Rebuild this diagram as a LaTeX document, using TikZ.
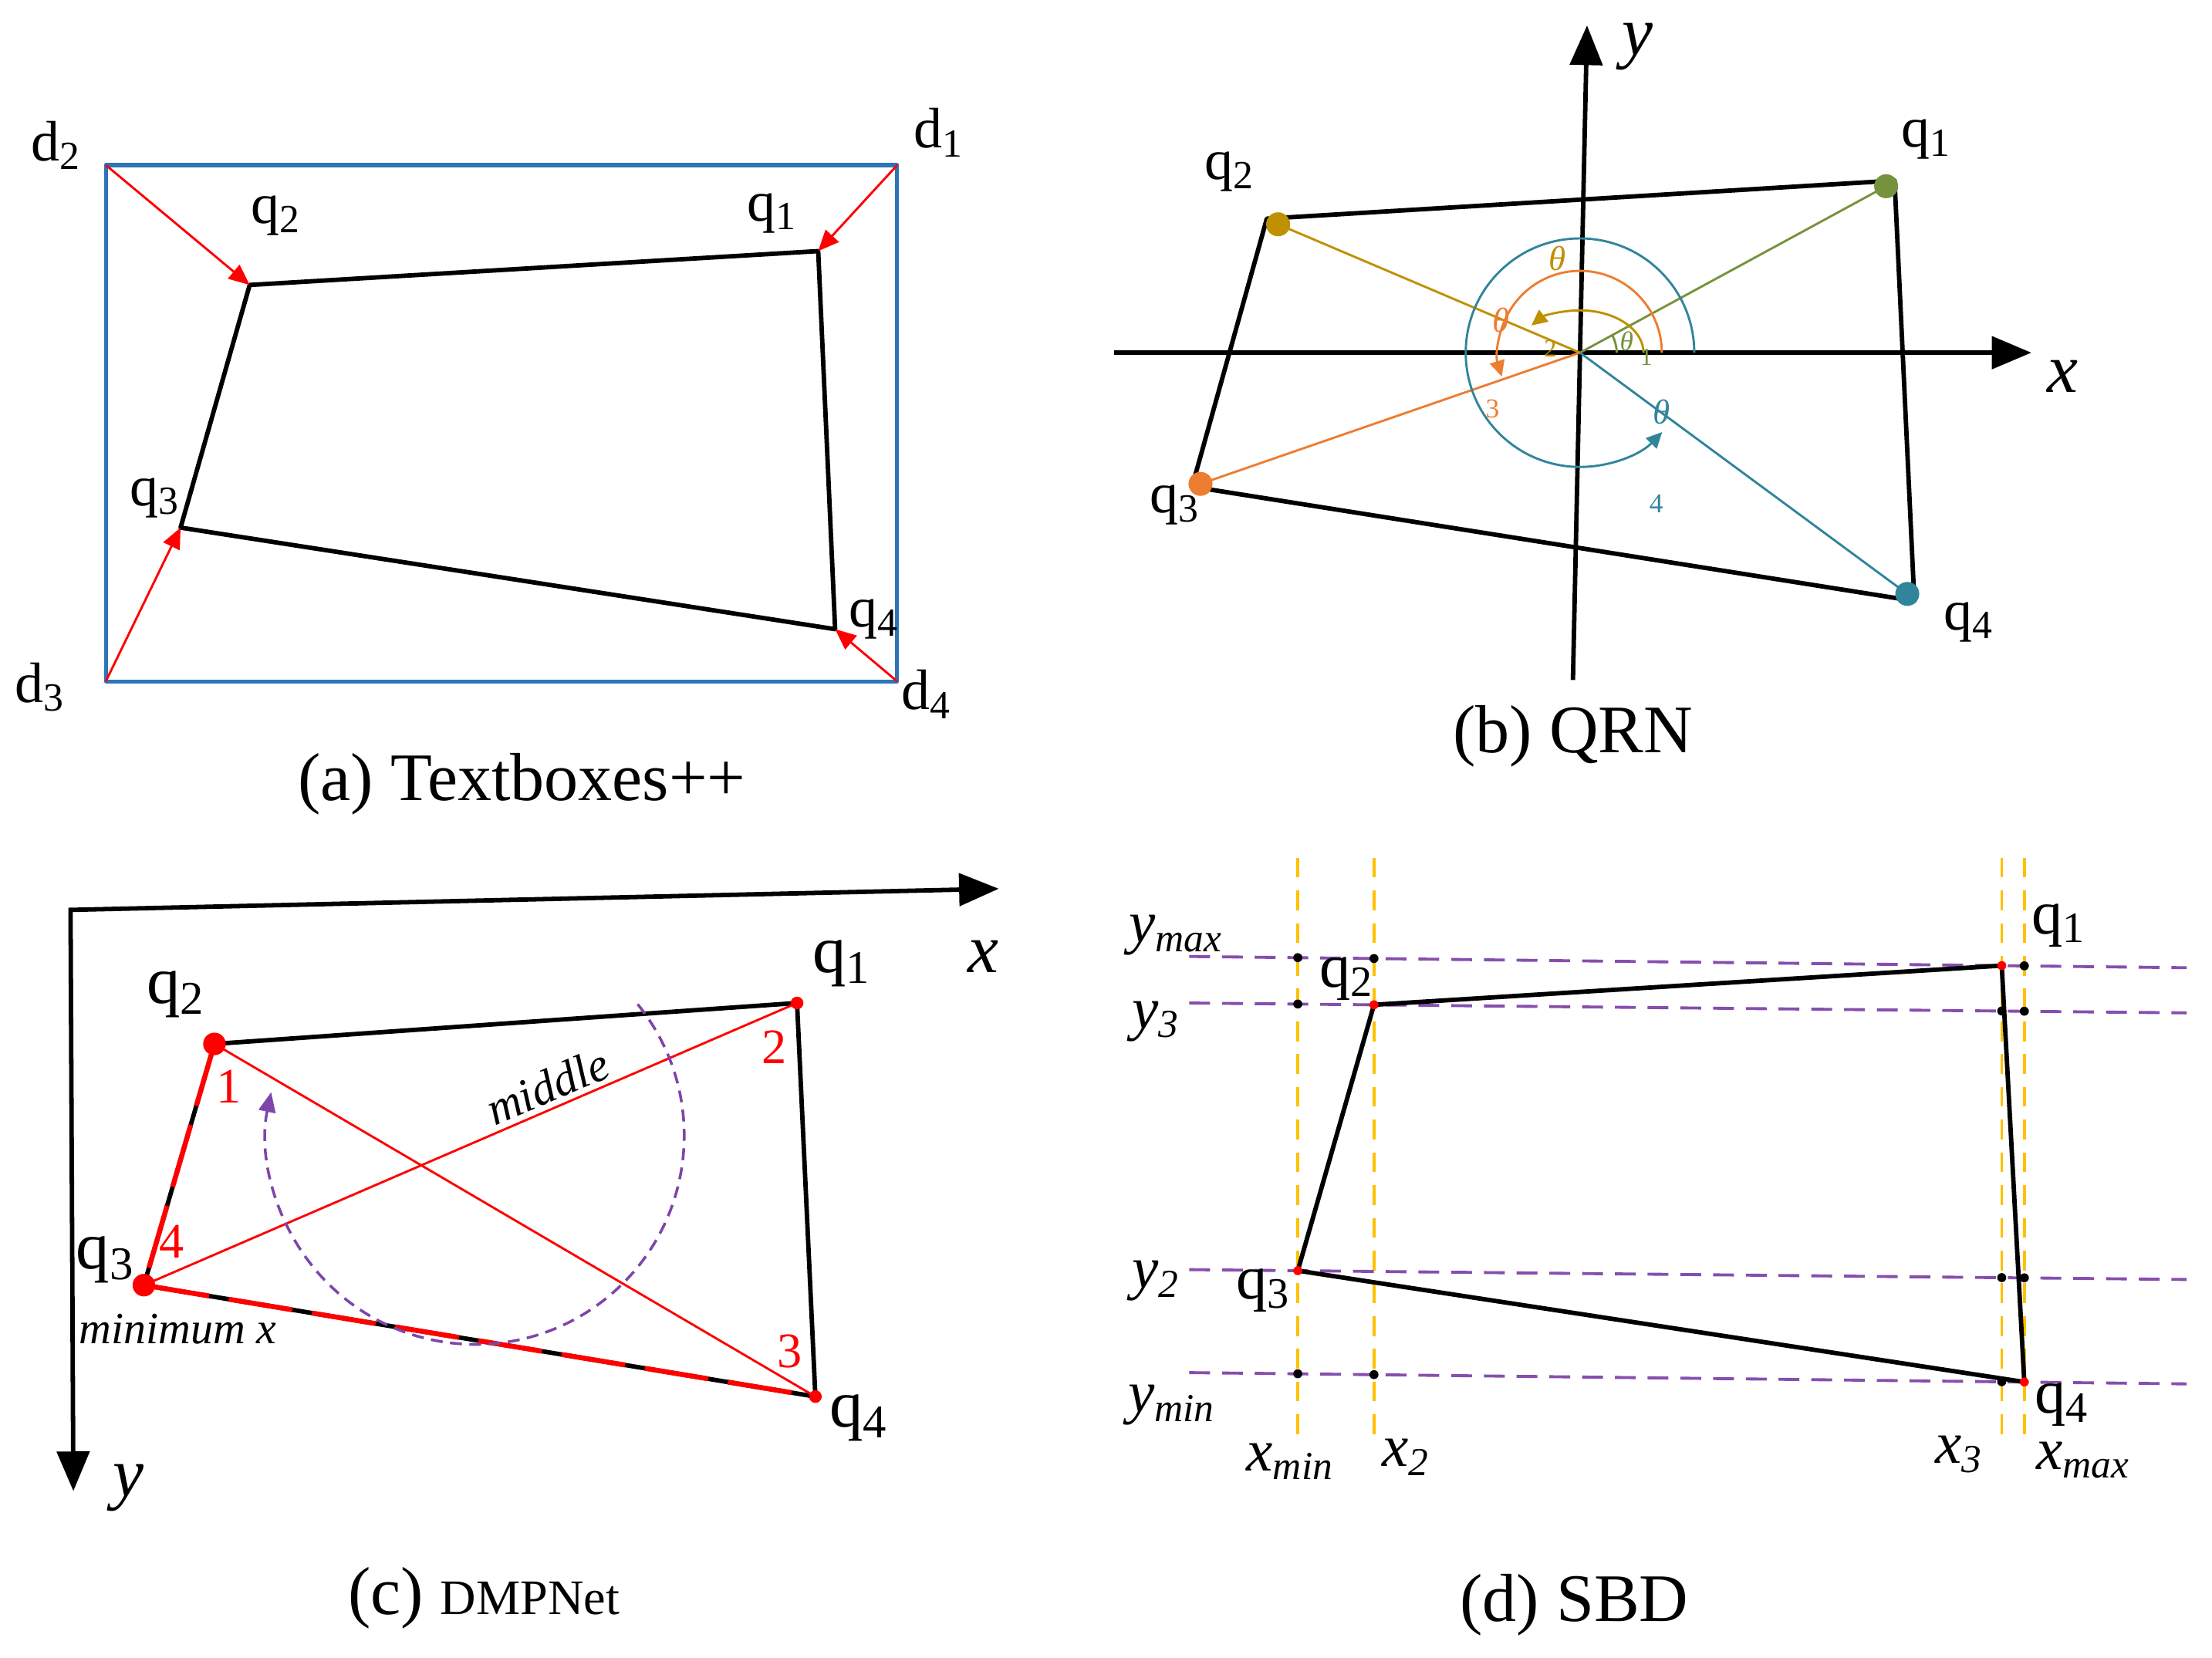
\documentclass[tikz,border=0pt]{standalone}
\usepackage{fontspec}
\setmainfont{Liberation Serif}
\usetikzlibrary{arrows.meta}

\definecolor{boxblue}{RGB}{46,117,182}
\definecolor{qgold}{RGB}{191,144,0}
\definecolor{qgreen}{RGB}{118,146,60}
\definecolor{qorange}{RGB}{237,125,49}
\definecolor{qteal}{RGB}{49,133,155}
\definecolor{lineyellow}{RGB}{255,192,0}
\definecolor{linepurple}{RGB}{112,48,160}

\begin{document}
\begin{tikzpicture}[x=0.01cm,y=-0.01cm,line join=round,
		edge/.style={line width=0.9pt},
		ptr/.style={red,line width=0.45pt,-{Triangle[length=4.2pt,width=3.6pt]}},
		axis/.style={line width=0.9pt,-{Triangle[length=8pt,width=6.5pt]}},
		arcptr/.style={line width=0.45pt,-{Triangle[length=3.2pt,width=3pt]}},
		lbl/.style={font=\fontsize{11.5}{13}\selectfont,inner sep=0pt},
		biglbl/.style={font=\fontsize{13.5}{15}\selectfont,inner sep=0pt},
		axlbl/.style={font=\fontsize{14}{16}\itshape,inner sep=0pt},
		captxt/.style={font=\fontsize{13.7}{16}\selectfont,inner sep=0pt},
		hdash/.style={linepurple!85,line width=0.6pt,dash pattern=on 4.2pt off 2.4pt},
		vdash/.style={lineyellow,line width=0.55pt,dash pattern=on 4pt off 2.6pt}]
		\useasboundingbox (0,0) rectangle (1568,1175);
		
		% (a) Textboxes++
		\coordinate (d1) at (636,117);
		\coordinate (d2) at (75,117);
		\coordinate (d3) at (75,483);
		\coordinate (d4) at (636,483);
		\coordinate (q1) at (580,178);
		\coordinate (q2) at (177,202);
		\coordinate (q3) at (128,374);
		\coordinate (q4) at (592,446);
		\draw[boxblue,line width=0.8pt] (d2) rectangle (d4);
		\draw[edge] (q1) -- (q2) -- (q3) -- (q4) -- cycle;
		\foreach \i in {1,...,4}
		\draw[ptr] (d\i) -- (q\i);
		\node[lbl] (ld1) at (666,94) {d\textsubscript{1}};
		\node[lbl] (ld2) at (40,103) {d\textsubscript{2}};
		\node[lbl] (ld3) at (29,487) {d\textsubscript{3}};
		\node[lbl] (ld4) at (657,492) {d\textsubscript{4}};
		\node[lbl] (lq1) at (548,151) {q\textsubscript{1}};
		\node[lbl] (lq2) at (196,153) {q\textsubscript{2}};
		\node[lbl] (lq3) at (110,353) {q\textsubscript{3}};
		\node[lbl] (lq4) at (620,439) {q\textsubscript{4}};
		\node[captxt] (capa) at (370,556) {(a) Textboxes++};
		
		% (b) QRN
		\coordinate (O) at (1120,250);
		\coordinate (bxl) at (790,250);
		\coordinate (bxr) at (1440,250);
		\coordinate (byb) at (1115,482);
		\coordinate (byt) at (1125,18);
		\coordinate (bc1) at (1343,128);
		\coordinate (bc2) at (898,155);
		\coordinate (bc3) at (845,345);
		\coordinate (bc4) at (1357,426);
		\coordinate (bq1) at (1337,132);
		\coordinate (bq2) at (906,159);
		\coordinate (bq3) at (851,343);
		\coordinate (bq4) at (1352,421);
		\draw[axis] (bxl) -- (bxr);
		\draw[axis] (byb) -- (byt);
		\draw[edge] (bc1) -- (bc2) -- (bc3) -- (bc4) -- cycle;
		\draw[qgreen,line width=0.45pt] (O) -- (bq1);
		\draw[qgold,line width=0.45pt] (O) -- (bq2);
		\draw[qorange,line width=0.45pt] (O) -- (bq3);
		\draw[qteal,line width=0.45pt] (O) -- (bq4);
		\draw[qgreen,line width=0.45pt] (O) ++(26,0) arc[start angle=0,end angle=-28.5,radius=26];
		\draw[qgold,arcptr] (O) ++(45,0) arc[start angle=0,end angle=-140,x radius=45,y radius=30];
		\draw[qorange,arcptr] (O) ++(58,0) arc[start angle=0,end angle=-197,radius=58];
		\draw[qteal,arcptr] (O) ++(81,0) arc[start angle=0,end angle=-316,radius=81];
		\fill[qgreen] (bq1) circle (8.5);
		\fill[qgold] (bq2) circle (8.5);
		\fill[qorange] (bq3) circle (8.5);
		\fill[qteal] (bq4) circle (8.5);
		\node[qgold,font=\fontsize{7}{8}\itshape,inner sep=0pt] (tgold) at (1104,183) {θ};
		\node[qorange,font=\fontsize{7}{8}\itshape,inner sep=0pt] (torange) at (1064,227) {θ};
		\node[qgreen,font=\fontsize{5.5}{6}\itshape,inner sep=0pt] (tgreen) at (1153,242) {θ};
		\node[qteal,font=\fontsize{7}{8}\itshape,inner sep=0pt] (tteal) at (1178,292) {θ};
		\node[qgreen,font=\fontsize{5}{6}\selectfont,inner sep=0pt] (ngreen) at (1167,253) {1};
		\node[qgold,font=\fontsize{5}{6}\selectfont,inner sep=0pt] (ngold) at (1099,247) {2};
		\node[qorange,font=\fontsize{5.5}{6}\selectfont,inner sep=0pt] (norange) at (1058,290) {3};
		\node[qteal,font=\fontsize{5.5}{6}\selectfont,inner sep=0pt] (nteal) at (1174,357) {4};
		\node[axlbl] (bx) at (1462,267) {x};
		\node[axlbl] (by) at (1161,33) {y};
		\node[lbl] (blq1) at (1366,99) {q\textsubscript{1}};
		\node[lbl] (blq2) at (872,122) {q\textsubscript{2}};
		\node[lbl] (blq3) at (833,358) {q\textsubscript{3}};
		\node[lbl] (blq4) at (1396,441) {q\textsubscript{4}};
		\node[captxt] (capb) at (1115,522) {(b) QRN};
		
		% (c) DMPNet
		\coordinate (C) at (50,645);
		\coordinate (cxr) at (708,630);
		\coordinate (cyb) at (52,1057);
		\coordinate (cq1) at (565,711);
		\coordinate (cq2) at (152,740);
		\coordinate (cq3) at (102,911);
		\coordinate (cq4) at (578,990);
		\coordinate (M) at (337,805);
		\draw[line width=0.9pt,line join=miter,{Triangle[length=8pt,width=6.5pt]}-{Triangle[length=8pt,width=6.5pt]}]
		(cyb) -- (C) -- (cxr);
		\draw[edge] (cq1) -- (cq2) -- (cq3) -- (cq4) -- cycle;
		\draw[red,line width=1pt,dash pattern=on 13pt off 4pt] (cq2) -- (cq3) -- (cq4);
		\draw[red,line width=0.45pt] (cq2) -- (cq4);
		\draw[red,line width=0.45pt] (cq3) -- (cq1);
		\draw[linepurple!90,line width=0.55pt,dash pattern=on 2.4pt off 1.5pt,-{Triangle[length=4pt,width=3.4pt]}]
		(M) ++(-39:148) arc[start angle=-39,end angle=192,radius=148];
		\fill[red] (cq2) circle (8);
		\fill[red] (cq3) circle (8);
		\fill[red] (cq1) circle (4.5);
		\fill[red] (cq4) circle (4.5);
		\node[red,font=\fontsize{10}{12}\selectfont,inner sep=0pt] (c1) at (162,770) {1};
		\node[red,font=\fontsize{10}{12}\selectfont,inner sep=0pt] (c2) at (549,742) {2};
		\node[red,font=\fontsize{10}{12}\selectfont,inner sep=0pt] (c3) at (560,958) {3};
		\node[red,font=\fontsize{10}{12}\selectfont,inner sep=0pt] (c4) at (122,880) {4};
		\node[font=\fontsize{9.5}{11}\itshape,inner sep=0pt,rotate=23] (mid) at (388,770) {middle};
		\node[font=\fontsize{9}{11}\itshape,inner sep=0pt] (minx) at (126,942) {minimum x};
		\node[biglbl] (clq1) at (597,683) {q\textsubscript{1}};
		\node[biglbl] (clq2) at (125,705) {q\textsubscript{2}};
		\node[biglbl] (clq3) at (75,893) {q\textsubscript{3}};
		\node[biglbl] (clq4) at (609,1005) {q\textsubscript{4}};
		\node[axlbl] (cx) at (697,678) {x};
		\node[axlbl] (cy) at (91,1055) {y};
		\node[captxt] (capc) at (343,1133) {(c) {\fontsize{10}{12}\selectfont DMPNet}};
		
		% (d) SBD
		\foreach \n/\x in {xmin/920,xtwo/974,xthree/1419,xmax/1435} {
			\coordinate (\n t) at (\x,608);
			\coordinate (\n b) at (\x,1022);
			\draw[vdash] (\n t) -- (\n b);
		}
		\foreach \n/\yl/\yr in {ymax/678/686,ythree/711/718,ytwo/900/907,ymin/973/981} {
			\coordinate (\n l) at (843,\yl);
			\coordinate (\n r) at (1550,\yr);
			\draw[hdash] (\n l) -- (\n r);
		}
		\coordinate (dq1) at (intersection of xthreet--xthreeb and ymaxl--ymaxr);
		\coordinate (dq2) at (intersection of xtwot--xtwob and ythreel--ythreer);
		\coordinate (dq3) at (intersection of xmint--xminb and ytwol--ytwor);
		\coordinate (dq4) at (intersection of xmaxt--xmaxb and yminl--yminr);
		\draw[edge] (dq1) -- (dq2) -- (dq3) -- (dq4) -- cycle;
		\foreach \a/\b in {xmin/ymax,xtwo/ymax,xmax/ymax,xmin/ythree,xthree/ythree,xmax/ythree,
			xthree/ytwo,xmax/ytwo,xmin/ymin,xtwo/ymin,xthree/ymin}
		\fill (intersection of \a t--\a b and \b l--\b r) circle (3.2);
		\foreach \i in {1,...,4}
		\fill[red] (dq\i) circle (3.2);
		\node[lbl,font=\fontsize{12.5}{14}\selectfont] (dlq1) at (1460,656) {q\textsubscript{1}};
		\node[lbl,font=\fontsize{12.5}{14}\selectfont] (dlq2) at (955,694) {q\textsubscript{2}};
		\node[lbl,font=\fontsize{12.5}{14}\selectfont] (dlq3) at (896,915) {q\textsubscript{3}};
		\node[lbl,font=\fontsize{12.5}{14}\selectfont] (dlq4) at (1462,996) {q\textsubscript{4}};
		\node[lbl,font=\fontsize{12}{14}\itshape] (lymax) at (834,663) {y\textsubscript{max}};
		\node[lbl,font=\fontsize{12}{14}\itshape] (lythree) at (820,724) {y\textsubscript{3}};
		\node[lbl,font=\fontsize{12}{14}\itshape] (lytwo) at (820,908) {y\textsubscript{2}};
		\node[lbl,font=\fontsize{12}{14}\itshape] (lymin) at (831,996) {y\textsubscript{min}};
		\node[lbl,font=\fontsize{12}{14}\itshape] (lxmin) at (915,1036) {x\textsubscript{min}};
		\node[lbl,font=\fontsize{12}{14}\itshape] (lxtwo) at (997,1033) {x\textsubscript{2}};
		\node[lbl,font=\fontsize{12}{14}\itshape] (lxthree) at (1389,1031) {x\textsubscript{3}};
		\node[lbl,font=\fontsize{12}{14}\itshape] (lxmax) at (1477,1035) {x\textsubscript{max}};
		\node[captxt] (capd) at (1116,1138) {(d) SBD};
	\end{tikzpicture}
\end{document}
